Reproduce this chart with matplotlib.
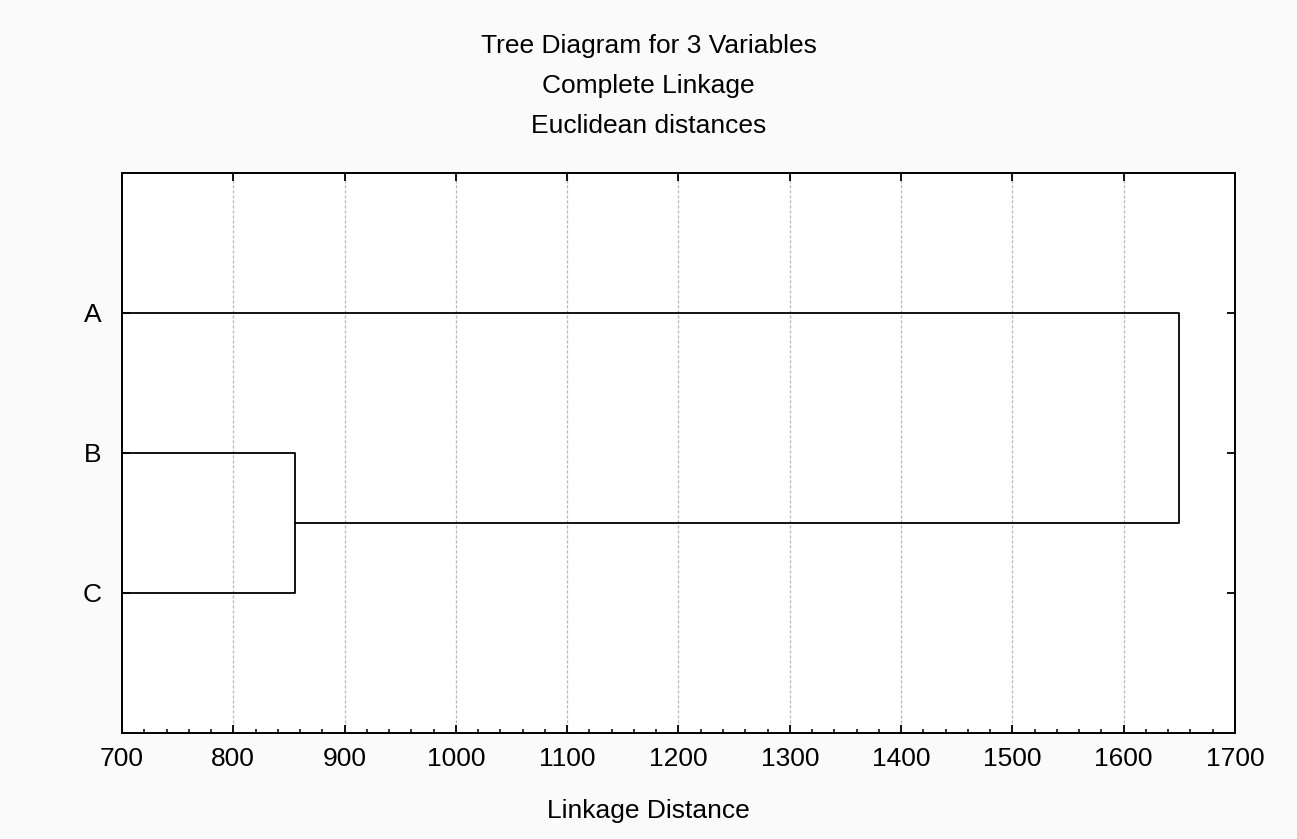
import numpy as np
import matplotlib
matplotlib.use("Agg")
import matplotlib.pyplot as plt
from matplotlib.ticker import MultipleLocator

# 数据
leaves = ["A", "B", "C"]
leaf_pos = [1, 2, 3]
merge_bc = 855.0     # B 与 C 合并距离
merge_a = 1650.0     # A 与 (B,C) 合并距离
x_ticks = [700, 800, 900, 1000, 1100, 1200, 1300, 1400, 1500, 1600, 1700]

plt.rcParams['font.family'] = ['Liberation Sans', 'DejaVu Sans']

fig = plt.figure(figsize=(12.97, 8.39), dpi=100, facecolor='#fafafa')
ax = fig.add_axes([122/1297, 1-733/839, (1235-122)/1297, (733-173)/839])
ax.set_facecolor('white')

x0 = x_ticks[0]
lw = 1.3
# 树状图
bc_mid = (leaf_pos[1] + leaf_pos[2]) / 2
ax.plot([x0, merge_bc, merge_bc, x0], [leaf_pos[1], leaf_pos[1], leaf_pos[2], leaf_pos[2]],
        color='black', lw=lw, clip_on=False)
ax.plot([x0, merge_a, merge_a, merge_bc], [leaf_pos[0], leaf_pos[0], bc_mid, bc_mid],
        color='black', lw=lw, clip_on=False)

ax.set_xlim(x_ticks[0], x_ticks[-1])
ax.set_ylim(4, 0)
ax.set_xticks(x_ticks)
ax.xaxis.set_minor_locator(MultipleLocator(20))
ax.set_yticks(leaf_pos)
ax.set_yticklabels(leaves)

for g in x_ticks[1:-1]:
    ax.axvline(g, color='#b8b8b8', ls=(0, (2.5, 1.5)), lw=0.9, zorder=0)

ax.tick_params(axis='both', which='major', direction='in', length=6, width=1.3,
               labelsize=19, top=True, right=True)
ax.tick_params(axis='x', which='major', pad=10)
ax.tick_params(axis='y', which='major', pad=15)
ax.tick_params(axis='x', which='minor', direction='in', length=3, width=1.1, top=False)
for s in ax.spines.values():
    s.set_linewidth(1.4)

fig.text(0.5, 1-46/839, "Tree Diagram for 3 Variables", ha='center', va='center', fontsize=19)
fig.text(0.5, 1-86/839, "Complete Linkage", ha='center', va='center', fontsize=19)
fig.text(0.5, 1-126/839, "Euclidean distances", ha='center', va='center', fontsize=19)
fig.text(0.5, 1-811/839, "Linkage Distance", ha='center', va='center', fontsize=19)

fig.savefig("out.png", dpi=100, facecolor=fig.get_facecolor())
